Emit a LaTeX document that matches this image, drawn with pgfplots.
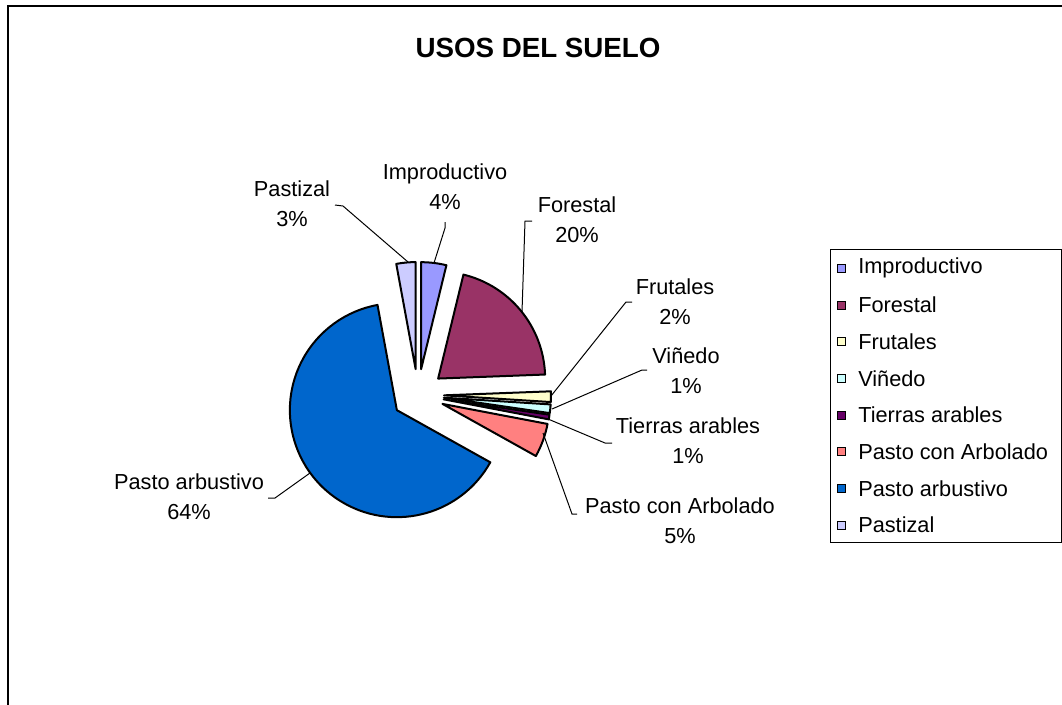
\documentclass[border=0pt]{standalone}
\usepackage{fontspec}
\setmainfont{Liberation Sans}
\usepackage{pgfplots}
\pgfplotsset{compat=1.18}

\definecolor{cImp}{HTML}{9999FF}
\definecolor{cFor}{HTML}{993366}
\definecolor{cFru}{HTML}{FFFFCC}
\definecolor{cVin}{HTML}{CCFFFF}
\definecolor{cTie}{HTML}{660066}
\definecolor{cPcA}{HTML}{FF8080}
\definecolor{cPar}{HTML}{0066CC}
\definecolor{cPas}{HTML}{CCCCFF}

\newcommand\lbl{\fontsize{16.3}{22.5}\selectfont}

% pie: centre (418,395) px, radius 107 px (80.25pt), every slice pulled out 26 px
% #1 share before this slice (%), #2 share (%), #3 colour
\newcommand\slice[3]{%
  \pgfmathsetmacro\aS{90-3.6*#1}%
  \pgfmathsetmacro\aE{90-3.6*(#1+#2)}%
  \pgfmathsetmacro\aM{(\aS+\aE)/2}%
  \pgfmathsetmacro\tx{418+26*cos(\aM)}%
  \pgfmathsetmacro\ty{395-26*sin(\aM)}%
  \edef\tmp{\noexpand\filldraw[fill=#3,draw=black,line width=1.5pt,line join=round]
    (axis cs:\tx,\ty) -- ++(\aS:80.25pt)
    arc[start angle=\aS,end angle=\aE,radius=80.25pt] -- cycle;}%
  \tmp}

% legend row: #1 y (px), #2 colour, #3 text
\newcommand\legitem[3]{%
  \filldraw[fill=#2,draw=black,line width=0.75pt]
    (axis cs:837,#1-4) rectangle (axis cs:845,#1+4);
  \node[anchor=west,font=\lbl,inner sep=0pt] at (axis cs:858,#1) {#3};}

\begin{document}
\begin{tikzpicture}
\begin{axis}[x=0.75pt,y=0.75pt,y dir=reverse,
  xmin=0,xmax=1062,ymin=0,ymax=704,hide axis,clip=true]

% chart frame
\draw[line width=1.5pt] (axis cs:8,730) -- (axis cs:8,6) -- (axis cs:1090,6);

\node[font=\fontsize{20.8}{25}\selectfont\bfseries] at (axis cs:538,48) {USOS DEL SUELO};

% slices, clockwise from 12 o'clock
\slice{0}{3.8}{cImp}
\slice{3.8}{20.6}{cFor}
\slice{24.4}{1.6}{cFru}
\slice{26}{1.3}{cVin}
\slice{27.3}{0.7}{cTie}
\slice{28}{5.1}{cPcA}
\slice{33.1}{64.0}{cPar}
\slice{97.1}{2.9}{cPas}

% leader lines
\draw[line width=0.75pt] (axis cs:335,205) -- (axis cs:343,206) -- (axis cs:408,262);
\draw[line width=0.75pt] (axis cs:445,222) -- (axis cs:445,228) -- (axis cs:434,263);
\draw[line width=0.75pt] (axis cs:532,221) -- (axis cs:525,221) -- (axis cs:522,312);
\draw[line width=0.75pt] (axis cs:632,302) -- (axis cs:626,302) -- (axis cs:551,396);
\draw[line width=0.75pt] (axis cs:647,370) -- (axis cs:642,370) -- (axis cs:552,409);
\draw[line width=0.75pt] (axis cs:612,443) -- (axis cs:605,443) -- (axis cs:548,419);
\draw[line width=0.75pt] (axis cs:577,514) -- (axis cs:572,514) -- (axis cs:543,433);
\draw[line width=0.75pt] (axis cs:268,498) -- (axis cs:275,498) -- (axis cs:310,473);

% data labels
\node[align=center,font=\lbl] at (axis cs:292,204) {Pastizal\\3\%};
\node[align=center,font=\lbl] at (axis cs:445,187) {Improductivo\\4\%};
\node[align=center,font=\lbl] at (axis cs:577,220) {Forestal\\20\%};
\node[align=center,font=\lbl] at (axis cs:675,302) {Frutales\\2\%};
\node[align=center,font=\lbl] at (axis cs:686,371) {Viñedo\\1\%};
\node[align=center,font=\lbl] at (axis cs:688,441) {Tierras arables\\1\%};
\node[align=center,font=\lbl] at (axis cs:680,521) {Pasto con Arbolado\\5\%};
\node[align=center,font=\lbl] at (axis cs:189,497) {Pasto arbustivo\\64\%};

% legend
\draw[line width=0.75pt] (axis cs:830,249) rectangle (axis cs:1061,542);
\legitem{268.3}{cImp}{Improductivo}
\legitem{305.0}{cFor}{Forestal}
\legitem{341.7}{cFru}{Frutales}
\legitem{378.4}{cVin}{Viñedo}
\legitem{415.1}{cTie}{Tierras arables}
\legitem{451.8}{cPcA}{Pasto con Arbolado}
\legitem{488.5}{cPar}{Pasto arbustivo}
\legitem{525.2}{cPas}{Pastizal}
\end{axis}
\pgfresetboundingbox
\path[use as bounding box] (0,0) rectangle (796.5pt,528pt);
\end{tikzpicture}
\end{document}
